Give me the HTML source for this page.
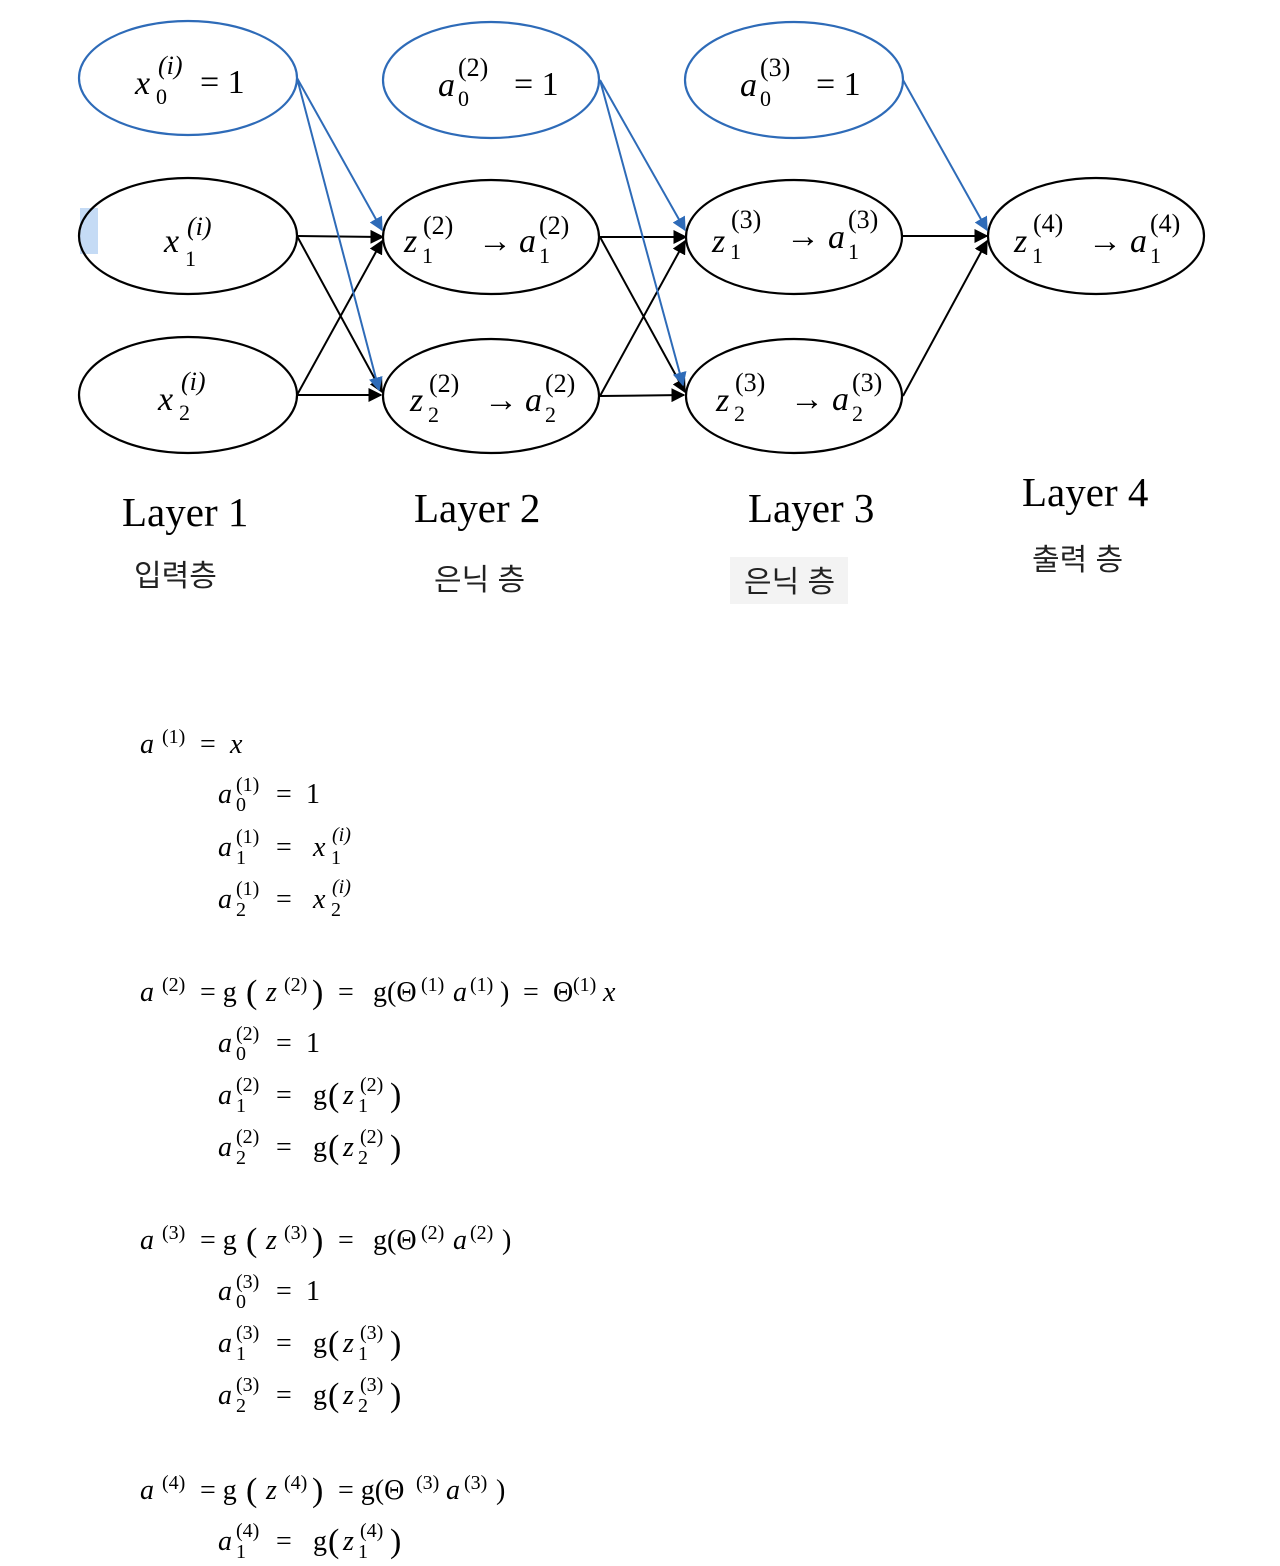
<!DOCTYPE html>
<html><head><meta charset="utf-8"><style>
html,body{margin:0;padding:0;background:#fff;}
svg{display:block}
.m{font-family:"Liberation Serif","DejaVu Serif",serif;font-style:italic;}
.r{font-family:"Liberation Serif","DejaVu Serif",serif;}
.k{font-family:"Liberation Sans","Noto Sans CJK KR",sans-serif;}
.i{font-style:italic}
.s{font-size:20px}
</style></head><body>
<svg width="1280" height="1566" viewBox="0 0 1280 1566" xmlns="http://www.w3.org/2000/svg">
<defs>
<marker id="ab" viewBox="0 0 10 10" refX="9" refY="5" markerWidth="7" markerHeight="7" orient="auto"><path d="M0,0L10,5L0,10z" fill="#000"/></marker>
<marker id="au" viewBox="0 0 10 10" refX="9" refY="5" markerWidth="7" markerHeight="7" orient="auto"><path d="M0,0L10,5L0,10z" fill="#2e6bb8"/></marker>
</defs>
<rect x="80" y="208" width="18" height="46" fill="#c5dbf5"/>
<rect x="730" y="557" width="118" height="47" fill="#f3f3f3"/>
<g fill="none" stroke-width="2.2">
<ellipse cx="188" cy="78" rx="109" ry="57" stroke="#2e6bb8"/>
<ellipse cx="491" cy="80" rx="108" ry="58" stroke="#2e6bb8"/>
<ellipse cx="794" cy="80" rx="109" ry="58" stroke="#2e6bb8"/>
<ellipse cx="188" cy="236" rx="109" ry="58" stroke="#000"/>
<ellipse cx="188" cy="395" rx="109" ry="58" stroke="#000"/>
<ellipse cx="491" cy="237" rx="108" ry="57" stroke="#000"/>
<ellipse cx="491" cy="396" rx="108" ry="57" stroke="#000"/>
<ellipse cx="794" cy="237" rx="108" ry="57" stroke="#000"/>
<ellipse cx="794" cy="396" rx="108" ry="57" stroke="#000"/>
<ellipse cx="1096" cy="236" rx="108" ry="58" stroke="#000"/>
</g>
<g stroke="#000" stroke-width="2" marker-end="url(#ab)">
<line x1="297" y1="236" x2="383" y2="237"/>
<line x1="297" y1="236" x2="382" y2="392"/>
<line x1="297" y1="395" x2="381" y2="395"/>
<line x1="297" y1="395" x2="382" y2="241"/>
<line x1="600" y1="237" x2="686" y2="237"/>
<line x1="600" y1="237" x2="685" y2="392"/>
<line x1="600" y1="396" x2="684" y2="395"/>
<line x1="600" y1="396" x2="685" y2="241"/>
<line x1="903" y1="236" x2="987" y2="236"/>
<line x1="903" y1="396" x2="987" y2="241"/>
</g>
<g stroke="#2e6bb8" stroke-width="2" marker-end="url(#au)">
<line x1="297" y1="78" x2="382" y2="230"/>
<line x1="297" y1="78" x2="379" y2="390"/>
<line x1="600" y1="80" x2="685" y2="230"/>
<line x1="600" y1="80" x2="683" y2="385"/>
<line x1="903" y1="80" x2="987" y2="230"/>
</g>
<g font-size="34" class="m">
<text x="135" y="94">x</text><text x="158" y="74" font-size="26">(i)</text><text x="156" y="104" font-size="22" class="r" font-style="normal">0</text><text x="200" y="93" class="r" font-style="normal">= 1</text>
<text x="438" y="96">a</text><text x="458" y="76" font-size="26" class="r" font-style="normal">(2)</text><text x="458" y="106" font-size="22" class="r" font-style="normal">0</text><text x="514" y="95" class="r" font-style="normal">= 1</text>
<text x="740" y="96">a</text><text x="760" y="76" font-size="26" class="r" font-style="normal">(3)</text><text x="760" y="106" font-size="22" class="r" font-style="normal">0</text><text x="816" y="95" class="r" font-style="normal">= 1</text>
<text x="164" y="252">x</text><text x="187" y="235" font-size="26">(i)</text><text x="185" y="266" font-size="22" class="r" font-style="normal">1</text>
<text x="158" y="410">x</text><text x="181" y="390" font-size="26">(i)</text><text x="179" y="420" font-size="22" class="r" font-style="normal">2</text>
<text x="404" y="252">z</text><text x="423" y="234" font-size="26" class="r" font-style="normal">(2)</text><text x="422" y="263" font-size="22" class="r" font-style="normal">1</text><text x="478" y="252" class="r" font-style="normal">→</text><text x="519" y="252">a</text><text x="539" y="234" font-size="26" class="r" font-style="normal">(2)</text><text x="539" y="263" font-size="22" class="r" font-style="normal">1</text>
<text x="410" y="411">z</text><text x="429" y="392" font-size="26" class="r" font-style="normal">(2)</text><text x="428" y="422" font-size="22" class="r" font-style="normal">2</text><text x="484" y="411" class="r" font-style="normal">→</text><text x="525" y="411">a</text><text x="545" y="392" font-size="26" class="r" font-style="normal">(2)</text><text x="545" y="422" font-size="22" class="r" font-style="normal">2</text>
<text x="712" y="252">z</text><text x="731" y="228" font-size="26" class="r" font-style="normal">(3)</text><text x="730" y="259" font-size="22" class="r" font-style="normal">1</text><text x="786" y="247" class="r" font-style="normal">→</text><text x="828" y="248">a</text><text x="848" y="228" font-size="26" class="r" font-style="normal">(3)</text><text x="848" y="259" font-size="22" class="r" font-style="normal">1</text>
<text x="716" y="411">z</text><text x="735" y="391" font-size="26" class="r" font-style="normal">(3)</text><text x="734" y="421" font-size="22" class="r" font-style="normal">2</text><text x="790" y="410" class="r" font-style="normal">→</text><text x="832" y="410">a</text><text x="852" y="391" font-size="26" class="r" font-style="normal">(3)</text><text x="852" y="421" font-size="22" class="r" font-style="normal">2</text>
<text x="1014" y="252">z</text><text x="1033" y="232" font-size="26" class="r" font-style="normal">(4)</text><text x="1032" y="263" font-size="22" class="r" font-style="normal">1</text><text x="1088" y="252" class="r" font-style="normal">→</text><text x="1130" y="252">a</text><text x="1150" y="232" font-size="26" class="r" font-style="normal">(4)</text><text x="1150" y="263" font-size="22" class="r" font-style="normal">1</text>
</g>
<g class="r" font-size="41">
<text x="122" y="526">Layer 1</text>
<text x="414" y="522">Layer 2</text>
<text x="748" y="522">Layer 3</text>
<text x="1022" y="506">Layer 4</text>
</g>
<g class="k" font-size="30" fill="#222">
<text x="134" y="586">입력층</text>
<text x="434" y="590">은닉 층</text>
<text x="744" y="592">은닉 층</text>
<text x="1032" y="570">출력 층</text>
</g>
<g class="r" font-size="28">
<!-- a(1) = x -->
<text x="140" y="753" class="i">a</text><text x="162" y="743" class="s">(1)</text><text x="200" y="753">=</text><text x="230" y="753" class="i">x</text>
<!-- a0(1) -->
<text x="218" y="803" class="i">a</text><text x="236" y="791" class="s">(1)</text><text x="236" y="811" class="s">0</text><text x="276" y="803">=</text><text x="306" y="803">1</text>
<text x="218" y="856" class="i">a</text><text x="236" y="843" class="s">(1)</text><text x="236" y="864" class="s">1</text><text x="276" y="856">=</text><text x="313" y="856" class="i">x</text><text x="332" y="841" class="s i">(i)</text><text x="331" y="864" class="s">1</text>
<text x="218" y="908" class="i">a</text><text x="236" y="895" class="s">(1)</text><text x="236" y="916" class="s">2</text><text x="276" y="908">=</text><text x="313" y="908" class="i">x</text><text x="332" y="893" class="s i">(i)</text><text x="331" y="916" class="s">2</text>

<!-- a(2) -->
<text x="140" y="1001" class="i">a</text><text x="162" y="991" class="s">(2)</text><text x="200" y="1001">= g</text><text x="246" y="1003" font-size="34">(</text><text x="266" y="1001" class="i">z</text><text x="284" y="991" class="s">(2)</text><text x="312" y="1003" font-size="34">)</text><text x="338" y="1001">=</text><text x="373" y="1001">g(Θ</text><text x="421" y="991" class="s">(1)</text><text x="453" y="1001" class="i">a</text><text x="470" y="991" class="s">(1)</text><text x="500" y="1001">)</text><text x="523" y="1001">=</text><text x="553" y="1001">Θ</text><text x="573" y="991" class="s">(1)</text><text x="603" y="1001" class="i">x</text>
<text x="218" y="1052" class="i">a</text><text x="236" y="1040" class="s">(2)</text><text x="236" y="1060" class="s">0</text><text x="276" y="1052">=</text><text x="306" y="1052">1</text>
<text x="218" y="1104" class="i">a</text><text x="236" y="1091" class="s">(2)</text><text x="236" y="1112" class="s">1</text><text x="276" y="1104">=</text><text x="313" y="1104">g</text><text x="328" y="1106" font-size="34">(</text><text x="343" y="1104" class="i">z</text><text x="360" y="1091" class="s">(2)</text><text x="358" y="1112" class="s">1</text><text x="390" y="1106" font-size="34">)</text>
<text x="218" y="1156" class="i">a</text><text x="236" y="1143" class="s">(2)</text><text x="236" y="1164" class="s">2</text><text x="276" y="1156">=</text><text x="313" y="1156">g</text><text x="328" y="1158" font-size="34">(</text><text x="343" y="1156" class="i">z</text><text x="360" y="1143" class="s">(2)</text><text x="358" y="1164" class="s">2</text><text x="390" y="1158" font-size="34">)</text>

<!-- a(3) -->
<text x="140" y="1249" class="i">a</text><text x="162" y="1239" class="s">(3)</text><text x="200" y="1249">= g</text><text x="246" y="1251" font-size="34">(</text><text x="266" y="1249" class="i">z</text><text x="284" y="1239" class="s">(3)</text><text x="312" y="1251" font-size="34">)</text><text x="338" y="1249">=</text><text x="373" y="1249">g(Θ</text><text x="421" y="1239" class="s">(2)</text><text x="453" y="1249" class="i">a</text><text x="470" y="1239" class="s">(2)</text><text x="502" y="1249">)</text>
<text x="218" y="1300" class="i">a</text><text x="236" y="1288" class="s">(3)</text><text x="236" y="1308" class="s">0</text><text x="276" y="1300">=</text><text x="306" y="1300">1</text>
<text x="218" y="1352" class="i">a</text><text x="236" y="1339" class="s">(3)</text><text x="236" y="1360" class="s">1</text><text x="276" y="1352">=</text><text x="313" y="1352">g</text><text x="328" y="1354" font-size="34">(</text><text x="343" y="1352" class="i">z</text><text x="360" y="1339" class="s">(3)</text><text x="358" y="1360" class="s">1</text><text x="390" y="1354" font-size="34">)</text>
<text x="218" y="1404" class="i">a</text><text x="236" y="1391" class="s">(3)</text><text x="236" y="1412" class="s">2</text><text x="276" y="1404">=</text><text x="313" y="1404">g</text><text x="328" y="1406" font-size="34">(</text><text x="343" y="1404" class="i">z</text><text x="360" y="1391" class="s">(3)</text><text x="358" y="1412" class="s">2</text><text x="390" y="1406" font-size="34">)</text>

<!-- a(4) -->
<text x="140" y="1499" class="i">a</text><text x="162" y="1489" class="s">(4)</text><text x="200" y="1499">= g</text><text x="246" y="1501" font-size="34">(</text><text x="266" y="1499" class="i">z</text><text x="284" y="1489" class="s">(4)</text><text x="312" y="1501" font-size="34">)</text><text x="338" y="1499">= g(Θ</text><text x="416" y="1489" class="s">(3)</text><text x="446" y="1499" class="i">a</text><text x="464" y="1489" class="s">(3)</text><text x="496" y="1499">)</text>
<text x="218" y="1550" class="i">a</text><text x="236" y="1537" class="s">(4)</text><text x="236" y="1558" class="s">1</text><text x="276" y="1550">=</text><text x="313" y="1550">g</text><text x="328" y="1552" font-size="34">(</text><text x="343" y="1550" class="i">z</text><text x="360" y="1537" class="s">(4)</text><text x="358" y="1558" class="s">1</text><text x="390" y="1552" font-size="34">)</text>
</g>
</svg>
</body></html>
